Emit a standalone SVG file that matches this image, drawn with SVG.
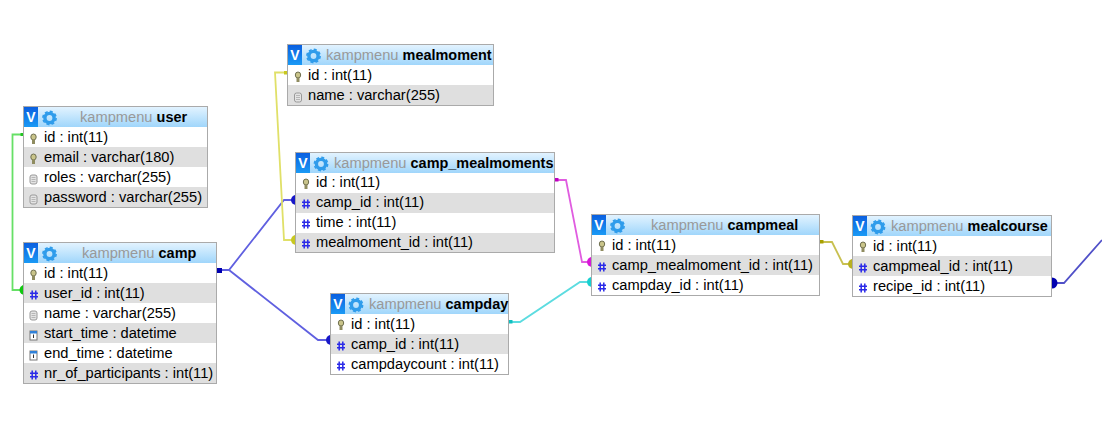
<svg xmlns="http://www.w3.org/2000/svg" width="1102" height="438" viewBox="0 0 1102 438">
<style>
text{font-family:"Liberation Sans",Arial,sans-serif;font-size:14.67px;fill:#000}
.db{fill:#999}
.tn{font-weight:700;font-size:14.45px}
.box{fill:#fff;stroke:#aaa;stroke-width:1}
.alt{fill:#dfdfdf}
.hdr{fill:url(#hg)}
.vb{fill:url(#vg)}
.v{font-weight:700;font-size:14px;fill:#fff;text-anchor:middle}
.c{fill:none;stroke-width:1.8}
</style>
<defs>
<linearGradient id="hg" x1="0" y1="0" x2="0" y2="1"><stop offset="0" stop-color="#e2f3ff"/><stop offset="1" stop-color="#a0d6fb"/></linearGradient>
<linearGradient id="vg" x1="0" y1="0" x2="0" y2="1"><stop offset="0" stop-color="#0a5fe0"/><stop offset="1" stop-color="#1a9af5"/></linearGradient>
<g id="gear"><circle r="4.6" fill="none" stroke="#2f9ceb" stroke-width="3.4"/><circle r="6.6" fill="none" stroke="#2f9ceb" stroke-width="1.6" stroke-dasharray="3 2.2"/></g>
<g id="key"><ellipse cx="0" cy="-2" rx="2.7" ry="3" fill="#c9c48a" stroke="#6f6f50" stroke-width="1"/><rect x="-1.5" y="0.5" width="3" height="4.5" fill="#8f8c60"/></g>
<g id="doc"><rect x="-3.5" y="-4" width="7" height="9" rx="2" fill="#e4e4e4" stroke="#999" stroke-width="1"/><path d="M-2-1.500H2M-2 .5H2M-2 2.500H2" stroke="#aaa" stroke-width=".8" fill="none"/></g>
<g id="hash"><path d="M-1.800-4.500V4.500M1.800-4.500V4.500M-4-1.800H4M-4 1.800H4" stroke="#2a2ae8" stroke-width="1.500" fill="none"/></g>
<g id="cal"><rect x="-3.500" y="-4" width="7" height="9" fill="#fff" stroke="#777" stroke-width="1"/><rect x="-3.500" y="-4" width="7" height="2.500" fill="#2f80d8"/><path d="M0-.5V3" stroke="#333" stroke-width="1"/></g>
</defs>

<g id="connectors">
<path class="c" stroke="#66e066" d="M23 134.500H12.500V290H22"/>
<rect x="20.500" y="133" width="3" height="3" fill="#22c422"/>
<circle cx="24.500" cy="290" r="5" fill="#10c810"/>
<path class="c" stroke="#6060e0" d="M217 270H229L284 200H293M229 270L318 340H328"/>
<rect x="217" y="268" width="5" height="5" fill="#0000b0"/>
<circle cx="296" cy="200" r="5" fill="#1818c8"/>
<circle cx="331" cy="340" r="5" fill="#1818c8"/>
<path class="c" stroke="#e0e068" d="M287 72.500H275L284 240H293"/>
<rect x="284" y="71" width="3.500" height="3.500" fill="#c8c820"/>
<circle cx="296" cy="240" r="5" fill="#c8c820"/>
<path class="c" stroke="#e05ce0" d="M555 180H566L582 262H589"/>
<rect x="555" y="178" width="3.500" height="3.500" fill="#c000c0"/>
<circle cx="592" cy="262" r="5" fill="#d818d8"/>
<path class="c" stroke="#5cdce0" d="M509 322H520L580 282H589"/>
<rect x="509" y="320" width="3.500" height="3.500" fill="#10c0c0"/>
<circle cx="592" cy="282" r="5" fill="#18d0d0"/>
<path class="c" stroke="#c8c050" d="M820 242H832L843 264H851"/>
<rect x="820" y="240" width="3.500" height="3.500" fill="#a8a000"/>
<circle cx="853" cy="264" r="5" fill="#b8b020"/>
<path class="c" stroke="#5050c8" d="M1055 283H1064L1102 240"/>
<circle cx="1052" cy="283" r="5.500" fill="#0000b0"/>
</g>

<g id="user">
<rect class="box" x="23.500" y="106.500" width="184" height="101"/>
<rect class="hdr" x="24" y="107" width="183" height="20"/>
<rect class="vb" x="24" y="107" width="14" height="20"/><text class="v" x="31" y="122">V</text>
<use href="#gear" x="49.500" y="118"/>
<text x="80" y="122"><tspan class="db">kampmenu</tspan> <tspan class="tn">user</tspan></text>
<rect class="alt" x="24" y="147" width="183" height="20"/><rect class="alt" x="24" y="187" width="183" height="20"/>
<use href="#key" x="33.500" y="139"/><use href="#key" x="33.500" y="159"/><use href="#doc" x="33.500" y="179"/><use href="#doc" x="33.500" y="199"/>
<text x="44" y="142">id : int(11)</text>
<text x="44" y="162">email : varchar(180)</text>
<text x="44" y="182">roles : varchar(255)</text>
<text x="44" y="202">password : varchar(255)</text>
</g>

<g id="camp">
<rect class="box" x="23.500" y="242.500" width="193" height="141"/>
<rect class="hdr" x="24" y="243" width="192" height="20"/>
<rect class="vb" x="24" y="243" width="14" height="20"/><text class="v" x="31" y="258">V</text>
<use href="#gear" x="49.500" y="254"/>
<text x="82" y="258"><tspan class="db">kampmenu</tspan> <tspan class="tn">camp</tspan></text>
<rect class="alt" x="24" y="283" width="192" height="20"/><rect class="alt" x="24" y="323" width="192" height="20"/><rect class="alt" x="24" y="363" width="192" height="20"/>
<use href="#key" x="33.500" y="275"/><use href="#hash" x="34" y="295"/><use href="#doc" x="33.500" y="315"/><use href="#cal" x="33.500" y="335"/><use href="#cal" x="33.500" y="355"/><use href="#hash" x="34" y="375"/>
<text x="44" y="278">id : int(11)</text>
<text x="44" y="298">user_id : int(11)</text>
<text x="44" y="318">name : varchar(255)</text>
<text x="44" y="338">start_time : datetime</text>
<text x="44" y="358">end_time : datetime</text>
<text x="44" y="378">nr_of_participants : int(11)</text>
</g>

<g id="mealmoment">
<rect class="box" x="287.500" y="44.500" width="206" height="61"/>
<rect class="hdr" x="288" y="45" width="205" height="20"/>
<rect class="vb" x="288" y="45" width="14" height="20"/><text class="v" x="295" y="60">V</text>
<use href="#gear" x="313.500" y="56"/>
<text x="326" y="60"><tspan class="db">kampmenu</tspan> <tspan class="tn">mealmoment</tspan></text>
<rect class="alt" x="288" y="85" width="205" height="20"/>
<use href="#key" x="298" y="77"/><use href="#doc" x="298" y="97"/>
<text x="308" y="80">id : int(11)</text>
<text x="308" y="100">name : varchar(255)</text>
</g>

<g id="camp_mealmoments">
<rect class="box" x="295.500" y="152.500" width="259" height="100"/>
<rect class="hdr" x="296" y="153" width="258" height="20"/>
<rect class="vb" x="296" y="153" width="14" height="20"/><text class="v" x="303" y="168">V</text>
<use href="#gear" x="321" y="164"/>
<text x="334" y="168"><tspan class="db">kampmenu</tspan> <tspan class="tn">camp_mealmoments</tspan></text>
<rect class="alt" x="296" y="193" width="258" height="20"/><rect class="alt" x="296" y="233" width="258" height="19"/>
<use href="#key" x="306" y="184"/><use href="#hash" x="306" y="204"/><use href="#hash" x="306" y="224"/><use href="#hash" x="306" y="244"/>
<text x="316" y="187">id : int(11)</text>
<text x="316" y="207">camp_id : int(11)</text>
<text x="316" y="227">time : int(11)</text>
<text x="316" y="247">mealmoment_id : int(11)</text>
</g>

<g id="campday">
<rect class="box" x="330.500" y="293.500" width="178" height="81"/>
<rect class="hdr" x="331" y="294" width="177" height="20"/>
<rect class="vb" x="331" y="294" width="14" height="20"/><text class="v" x="338" y="309">V</text>
<use href="#gear" x="356" y="305"/>
<text x="369" y="309"><tspan class="db">kampmenu</tspan> <tspan class="tn">campday</tspan></text>
<rect class="alt" x="331" y="334" width="177" height="20"/>
<use href="#key" x="341" y="325"/><use href="#hash" x="341" y="346"/><use href="#hash" x="341" y="366"/>
<text x="351" y="329">id : int(11)</text>
<text x="351" y="349">camp_id : int(11)</text>
<text x="351" y="369">campdaycount : int(11)</text>
</g>

<g id="campmeal">
<rect class="box" x="591.500" y="214.500" width="228" height="81"/>
<rect class="hdr" x="592" y="215" width="227" height="20"/>
<rect class="vb" x="592" y="215" width="14" height="20"/><text class="v" x="599" y="230">V</text>
<use href="#gear" x="617.500" y="226"/>
<text x="651" y="230"><tspan class="db">kampmenu</tspan> <tspan class="tn">campmeal</tspan></text>
<rect class="alt" x="592" y="255" width="227" height="20"/>
<use href="#key" x="602" y="246"/><use href="#hash" x="602" y="267"/><use href="#hash" x="602" y="287"/>
<text x="612" y="250">id : int(11)</text>
<text x="612" y="270">camp_mealmoment_id : int(11)</text>
<text x="612" y="290">campday_id : int(11)</text>
</g>

<g id="mealcourse">
<rect class="box" x="852.500" y="215.500" width="199" height="81"/>
<rect class="hdr" x="853" y="216" width="198" height="20"/>
<rect class="vb" x="853" y="216" width="14" height="20"/><text class="v" x="860" y="231">V</text>
<use href="#gear" x="878" y="227"/>
<text x="891" y="231"><tspan class="db">kampmenu</tspan> <tspan class="tn">mealcourse</tspan></text>
<rect class="alt" x="853" y="256" width="198" height="20"/>
<use href="#key" x="863" y="247"/><use href="#hash" x="863" y="268"/><use href="#hash" x="863" y="288"/>
<text x="873" y="251">id : int(11)</text>
<text x="873" y="271">campmeal_id : int(11)</text>
<text x="873" y="291">recipe_id : int(11)</text>
</g>
</svg>
